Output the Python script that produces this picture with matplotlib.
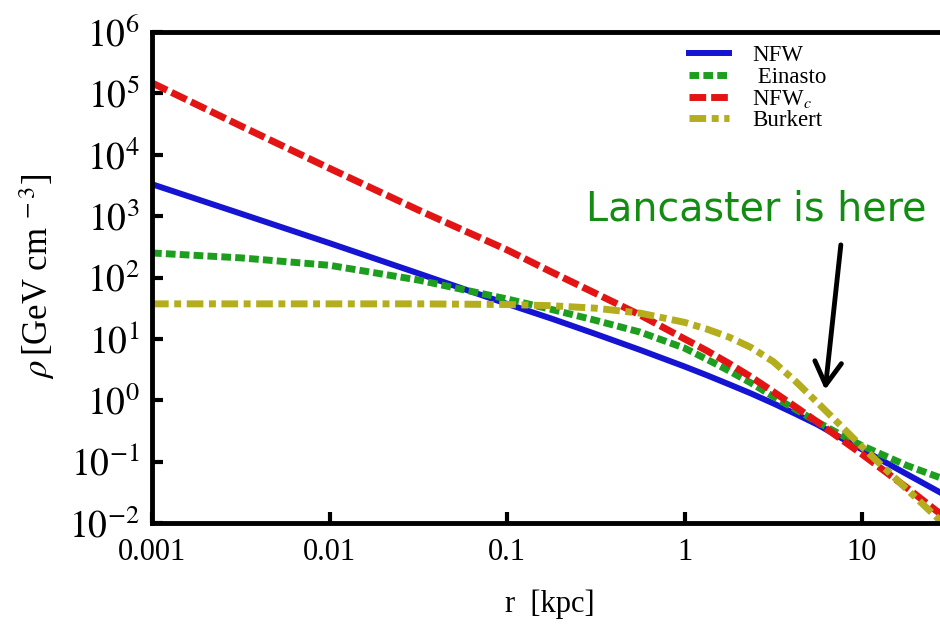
import matplotlib
matplotlib.use("Agg")
import matplotlib.pyplot as plt
from matplotlib.ticker import FixedLocator, FixedFormatter, NullLocator

plt.rcParams['font.family'] = ['Liberation Serif', 'DejaVu Serif']
plt.rcParams['mathtext.fontset'] = 'stix'
plt.rcParams['lines.scale_dashes'] = False

# radius [kpc]
r_kpc = [0.001, 0.00316, 0.01, 0.0316, 0.1, 0.178, 0.316, 0.562, 1.0,
         1.33, 1.78, 2.37, 3.16, 4.22, 5.62, 7.50, 10.0, 17.8, 30.0]
# density [GeV cm^-3]
rho_nfw = [3310, 1100, 363, 117, 37.2, 21.4, 12.0, 6.61, 3.55,
           2.57, 1.82, 1.29, 0.89, 0.60, 0.40, 0.25, 0.158, 0.063, 0.0275]
rho_einasto = [251, 209, 158, 91, 44.7, 30.2, 20.0, 12.9, 7.08,
               4.68, 3.02, 1.91, 1.15, 0.71, 0.44, 0.28, 0.182, 0.087, 0.050]
rho_nfwc = [1.48e5, 2.95e4, 6.0e3, 1.26e3, 282, 123, 55.0, 24.5, 10.0,
            6.46, 3.98, 2.40, 1.38, 0.78, 0.44, 0.24, 0.132, 0.038, 0.0117]
rho_burkert = [37.2, 37.2, 37.2, 37.2, 36.3, 34.7, 31.6, 26.3, 18.6,
               14.5, 10.7, 7.24, 4.27, 2.04, 0.91, 0.40, 0.174, 0.036, 0.0087]

labels = ["NFW", " Einasto", "NFW$_c$", "Burkert"]
colors = ["#1414d2", "#1e9e1e", "#e31414", "#b4ae1e"]

x_ticks = [0.001, 0.01, 0.1, 1, 10]
x_ticklabels = ["0.001", "0.01", "0.1", "1", "10"]
y_ticks = [1e-2, 1e-1, 1e0, 1e1, 1e2, 1e3, 1e4, 1e5, 1e6]
y_ticklabels = [r"$10^{-2}$", r"$10^{-1}$", r"$10^{0}$", r"$10^{1}$", r"$10^{2}$",
                r"$10^{3}$", r"$10^{4}$", r"$10^{5}$", r"$10^{6}$"]

fig = plt.figure(figsize=(9.4, 6.26), dpi=100)
W, H = 940, 626
ax = fig.add_axes([152 / W, 103 / H, 794.7 / W, 491 / H])

ax.plot(r_kpc, rho_nfw, color=colors[0], lw=4.3, ls='-', label=labels[0])
ax.plot(r_kpc, rho_einasto, color=colors[1], lw=5, ls=(0, (7, 3)), label=labels[1])
ax.plot(r_kpc, rho_nfwc, color=colors[2], lw=5, ls=(0, (12, 3.6)), label=labels[2])
ax.plot(r_kpc, rho_burkert, color=colors[3], lw=5, ls=(0, (12, 4, 5, 4)), label=labels[3])

ax.set_xscale('log')
ax.set_yscale('log')
ax.set_xlim(0.001, 30)
ax.set_ylim(1e-2, 1e6)

ax.xaxis.set_major_locator(FixedLocator(x_ticks))
ax.xaxis.set_major_formatter(FixedFormatter(x_ticklabels))
ax.yaxis.set_major_locator(FixedLocator(y_ticks))
ax.yaxis.set_major_formatter(FixedFormatter(y_ticklabels))
ax.xaxis.set_minor_locator(NullLocator())
ax.yaxis.set_minor_locator(NullLocator())

ax.tick_params(axis='both', direction='in', length=8, width=3, top=False, right=False)
ax.tick_params(axis='x', labelsize=22, pad=11)
ax.tick_params(axis='y', labelsize=27, pad=9)
for s in ax.spines.values():
    s.set_linewidth(3.5)

ax.set_xlabel("r  [kpc]", fontsize=22, labelpad=16)
fig.text(37 / W, 1 - 276 / H, r"$\rho\,$[GeV cm$^{\;-3}$]", rotation=90,
         ha='center', va='center', fontsize=25)

leg = ax.legend(loc='upper left', bbox_to_anchor=(689 / W, 1 - 45 / H),
                bbox_transform=fig.transFigure, frameon=False, fontsize=16.5,
                handlelength=1.75, handletextpad=1.0, labelspacing=0.02,
                borderpad=0, borderaxespad=0)

ax.annotate('', xy=(6.2, 1.48), xytext=(7.6, 340),
            arrowprops=dict(arrowstyle='->,head_length=0.55,head_width=0.32',
                            lw=3.5, color='black', mutation_scale=30,
                            shrinkA=0, shrinkB=0))
ax.text(2.53, 1260, "Lancaster is here", color='#148c14', fontsize=28.5,
        family=['DejaVu Sans'], ha='center', va='center')

fig.savefig("out.png", dpi=100)
